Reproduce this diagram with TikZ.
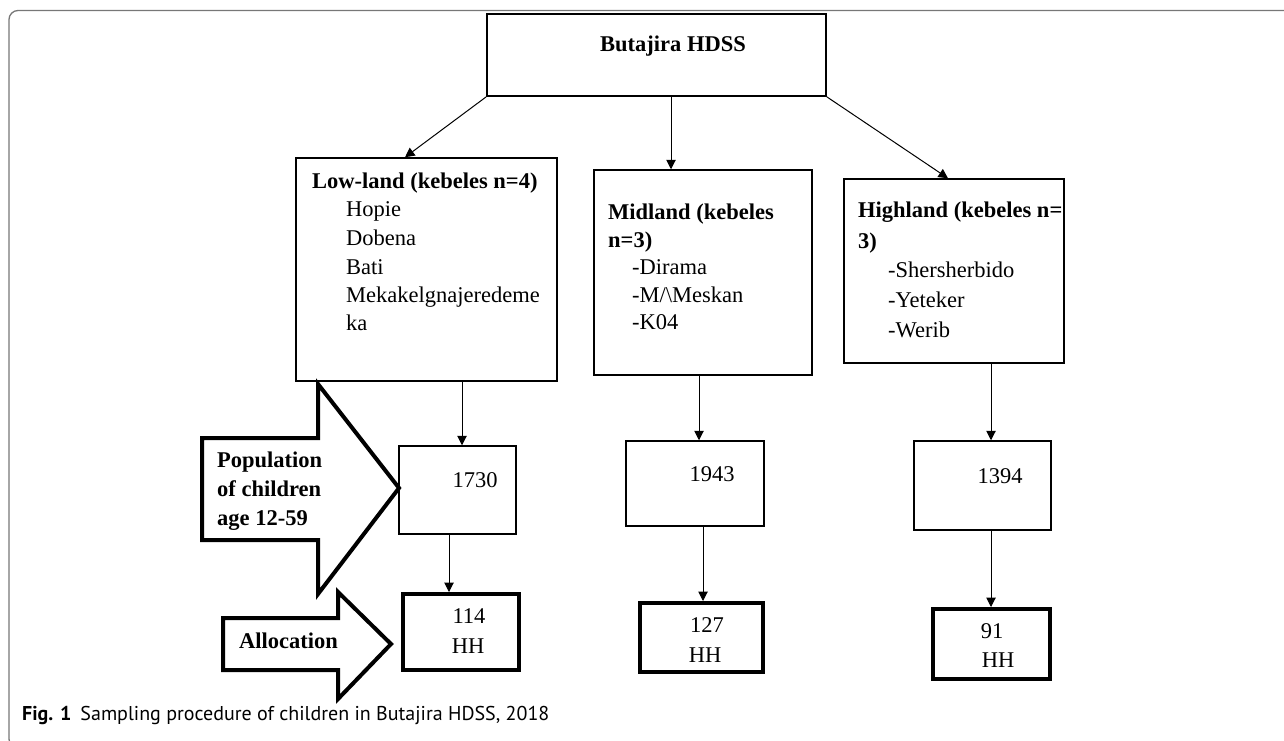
\documentclass[tikz,border=0pt]{standalone}
\usepackage{fontspec}
\setmainfont{Liberation Serif}
\newfontfamily\capfont{PT Sans}
\usetikzlibrary{arrows.meta}
\definecolor{framegray}{HTML}{777777}
\tikzset{
  box/.style={draw, line width=1.5pt, inner sep=0pt},
  hbox/.style={draw, line width=4pt, inner sep=0pt},
  conn/.style={line width=1pt, -{Triangle[length=9.5pt,width=9.5pt]}},
  bigarrow/.style={draw, line width=4pt, line join=miter, miter limit=10},
  tl/.style={anchor=base west, inner sep=0pt, font=\fontsize{22.5}{26}\selectfont},
  tlb/.style={anchor=base west, inner sep=0pt, font=\fontsize{22.5}{26}\selectfont\bfseries},
  tc/.style={anchor=base, inner sep=0pt, font=\fontsize{22.5}{26}\selectfont},
  tcb/.style={anchor=base, inner sep=0pt, font=\fontsize{22.5}{26}\selectfont\bfseries},
}
\begin{document}
\begin{tikzpicture}[x=1pt,y=-1pt]
\useasboundingbox (0,0) rectangle (1284,740);
\clip (0,0) rectangle (1284,740);
% outer frame
\draw[framegray, line width=1.3pt, rounded corners=9pt] (9,10.5) rectangle (1330,748);

% boxes
\node[box, line width=1.8pt, minimum width=339pt, minimum height=82pt] (top) at (656.5,55) {};
\node[tcb] (ttop) at (673,51) {Butajira HDSS};

\node[box, minimum width=261pt, minimum height=223pt] (low) at (426.5,269.5) {};
\node[tlb] (lowh) at (312,188) {Low-land (kebeles n=4)};
\node[tl] (low1) at (346,216) {Hopie};
\node[tl] (low2) at (346,245) {Dobena};
\node[tl] (low3) at (346,274) {Bati};
\node[tl] (low4) at (346,302) {Mekakelgnajeredeme};
\node[tl] (low5) at (346,330) {ka};

\node[box, minimum width=218pt, minimum height=205pt] (mid) at (703,272.5) {};
\node[tlb] (midh1) at (608,219) {Midland (kebeles};
\node[tlb] (midh2) at (608,247) {n=3)};
\node[tl] (mid1) at (632,274) {-Dirama};
\node[tl] (mid2) at (632,302) {-M/\textbackslash Meskan};
\node[tl] (mid3) at (632,329) {-K04};

\node[box, minimum width=220pt, minimum height=184pt] (high) at (954,271) {};
\node[tlb] (highh1) at (858,217) {Highland (kebeles n=};
\node[tlb] (highh2) at (858,248) {3)};
\node[tl] (high1) at (888,277) {-Shersherbido};
\node[tl] (high2) at (888,307) {-Yeteker};
\node[tl] (high3) at (888,337) {-Werib};

\node[box, minimum width=117pt, minimum height=88pt] (pop1) at (457.5,490) {};
\node[tc] (pop1t) at (475,487) {1730};
\node[box, minimum width=138pt, minimum height=85pt] (pop2) at (695,483.5) {};
\node[tc] (pop2t) at (712,481) {1943};
\node[box, minimum width=137pt, minimum height=89pt] (pop3) at (982.5,485.5) {};
\node[tc] (pop3t) at (1000,483) {1394};

\node[hbox, minimum width=116pt, minimum height=76pt] (hh1) at (461,632) {};
\node[tc] (hh1a) at (469,623) {114};
\node[tc] (hh1b) at (468,653) {HH};
\node[hbox, minimum width=123pt, minimum height=69pt] (hh2) at (701.5,637.5) {};
\node[tc] (hh2a) at (707,632) {127};
\node[tc] (hh2b) at (705,662) {HH};
\node[hbox, minimum width=117pt, minimum height=70pt] (hh3) at (991.5,644) {};
\node[tc] (hh3a) at (992,638) {91};
\node[tc] (hh3b) at (998,667) {HH};

% connectors
\draw[conn] (top.south west) -- ([xshift=-21.5pt]low.north);
\draw[conn] ([xshift=14.5pt]top.south) -- ([xshift=14.5pt]top.south |- mid.north);
\draw[conn] (top.south east) -- ([xshift=-6pt]high.north);
\draw[conn] ([xshift=4.5pt]pop1.north |- low.south) -- ([xshift=4.5pt]pop1.north);
\draw[conn] ([xshift=-8.5pt]pop1.south) -- ([xshift=-12pt]hh1.north);
\draw[conn] ([xshift=4pt]pop2.north |- mid.south) -- ([xshift=4pt]pop2.north);
\draw[conn] ([xshift=8pt]pop2.south) -- ([xshift=1.5pt]hh2.north);
\draw[conn] ([xshift=8.5pt]pop3.north |- high.south) -- ([xshift=8.5pt]pop3.north);
\draw[conn] ([xshift=8.5pt]pop3.south) -- ([xshift=-0.5pt]hh3.north);

% big block arrows
\draw[bigarrow] (202,438) -- (318,438) -- (318,384) -- (399,488) -- (318,594) -- (318,540) -- (202,540) -- cycle;
\node[tlb] (popa) at (217,467) {Population};
\node[tlb] (popb) at (217,496) {of children};
\node[tlb] (popc) at (217,525) {age 12-59};

\draw[bigarrow] (223,618) -- (338,618) -- (338,592) -- (391,644) -- (338,699) -- (338,670) -- (223,670) -- cycle;
\node[tlb] (alloc) at (239,648) {Allocation};

% caption
\node[anchor=base west, inner sep=0pt, font=\capfont\fontsize{20}{24}\selectfont] (cap) at (22,720) {\textbf{Fig. 1}\hspace{9pt}Sampling procedure of children in Butajira HDSS, 2018};
\end{tikzpicture}
\end{document}
